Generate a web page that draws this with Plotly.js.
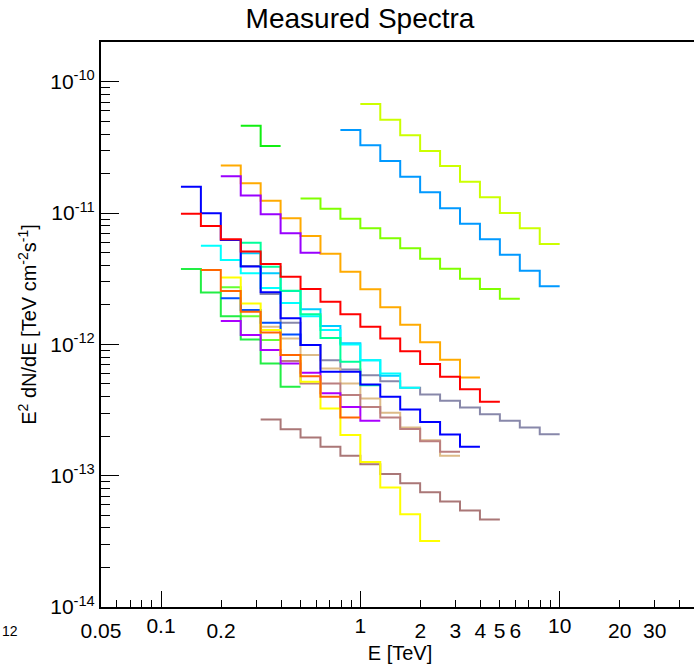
<!DOCTYPE html>
<html><head><meta charset="utf-8">
<script src="https://cdn.plot.ly/plotly-3.0.1.min.js"></script>
<style>html,body{margin:0;padding:0;overflow:hidden;background:#fff}</style>
</head><body><div id="chart"></div>
<script>
// Common log-spaced energy bin edges [TeV] (0.1 decade wide)
const binEdges = [0.1259,0.1585,0.1995,0.2512,0.3162,0.3981,0.5012,0.6310,0.7943,1.0,
                  1.259,1.585,1.995,2.512,3.162,3.981,5.012,6.310,7.943,10.0];

// Each spectrum: first bin-edge index and E^2 dN/dE values per bin
const specYellowGreen = {start:9, color:'#ccff00', values:[6.79e-11,5.13e-11,3.92e-11,2.97e-11,2.28e-11,1.73e-11,1.32e-11,1.00e-11,7.66e-12,5.81e-12]};
const specAzure = {start:8, color:'#0099ff', values:[4.30e-11,3.29e-11,2.49e-11,1.89e-11,1.44e-11,1.09e-11,8.30e-12,6.31e-12,4.82e-12,3.64e-12,2.77e-12]};
const specChartreuse = {start:6, color:'#80ff00', values:[1.29e-11,1.08e-11,9.06e-12,7.66e-12,6.43e-12,5.39e-12,4.49e-12,3.77e-12,3.16e-12,2.64e-12,2.23e-12]};
const specGreenTop = {start:3, color:'#11ee11', values:[4.62e-11,3.24e-11]};
const specOrange = {start:2, color:'#ffaa00', values:[2.30e-11,1.69e-11,1.24e-11,9.13e-12,6.69e-12,4.90e-12,3.58e-12,2.63e-12,1.92e-12,1.41e-12,1.04e-12,7.63e-13,5.60e-13]};
const specPurpleUp = {start:2, color:'#9900ff', values:[1.91e-11,1.36e-11,9.79e-12,7.02e-12,4.99e-12]};
const specGray = {start:2, color:'#8888aa', values:[6.23e-12,3.95e-12,2.42e-12,1.46e-12,9.88e-13,7.59e-13,6.45e-13,5.83e-13,5.25e-13,4.67e-13,4.16e-13,3.72e-13,3.31e-13,2.94e-13,2.62e-13,2.33e-13,2.07e-13]};
const specBlue = {start:0, color:'#0000ff', values:[1.59e-11,9.96e-12,6.23e-12,3.92e-12,2.50e-12,1.58e-12,9.88e-13,6.18e-13,6.18e-13,4.96e-13,3.99e-13,3.20e-13,2.57e-13,2.06e-13,1.66e-13]};
const specRed = {start:0, color:'#ff0000', values:[9.89e-12,7.97e-12,6.31e-12,5.10e-12,4.09e-12,3.27e-12,2.64e-12,2.11e-12,1.70e-12,1.36e-12,1.11e-12,8.86e-13,7.08e-13,5.66e-13,4.56e-13,3.65e-13]};
const specCyan = {start:1, color:'#00ffff', values:[5.64e-12,4.39e-12,3.48e-12,2.69e-12,2.07e-12,1.64e-12,1.29e-12,1.00e-12,7.59e-13,6.01e-13,4.67e-13]};
const specSkyBlue = {start:3, color:'#00ccff', values:[4.94e-12,3.48e-12,2.55e-12,1.85e-12,1.38e-12,1.02e-12,7.59e-13,5.76e-13]};
const specSpring = {start:3, color:'#00ff99', values:[5.95e-12,3.90e-12,2.56e-12,1.70e-12,1.12e-12,7.37e-13,4.89e-13]};
const specOrangeRed = {start:1, color:'#ff6600', values:[3.68e-12,2.55e-12,1.77e-12,1.23e-12,8.29e-13,5.73e-13,4.00e-13,2.78e-13]};
const specYellow = {start:2, color:'#ffff00', values:[3.23e-12,2.05e-12,1.29e-12,8.29e-13,5.19e-13,3.25e-13,2.04e-13,1.27e-13,8.13e-14,5.09e-14,3.18e-14]};
const specGreen = {start:0, color:'#22ee44', values:[3.75e-12,2.49e-12,1.64e-12,1.09e-12,7.16e-13,4.75e-13]};
const specLime = {start:2, color:'#66ff33', values:[2.72e-12,1.64e-12,1.08e-12]};
const specRoyal = {start:2, color:'#0050ff', values:[2.25e-12,1.83e-12,1.46e-12,1.19e-12,9.88e-13]};
const specPurpleLow = {start:2, color:'#aa00ff', values:[1.51e-12,1.18e-12,9.05e-13,7.16e-13,6.07e-13,4.25e-13,3.33e-13,2.62e-13]};
const specTan = {start:4, color:'#ddbb88', values:[1.36e-12,1.11e-12,8.29e-13,6.54e-13,5.04e-13,3.88e-13,3.01e-13,2.33e-13,1.86e-13,1.42e-13]};
const specBrown2 = {start:5, color:'#bb7f7f', values:[7.46e-13,5.04e-13,5.04e-13,4.11e-13,3.34e-13,2.78e-13,2.27e-13,1.83e-13,1.52e-13]};
const specBrown = {start:4, color:'#aa7777', values:[2.68e-13,2.26e-13,1.95e-13,1.66e-13,1.42e-13,1.22e-13,1.03e-13,8.77e-14,7.48e-14,6.36e-14,5.43e-14,4.64e-14]};

const spectra = [specYellowGreen, specAzure, specChartreuse, specGreenTop, specOrange, specPurpleUp,
  specGray, specTan, specBrown2, specBrown, specSkyBlue, specCyan, specSpring, specLime, specGreen,
  specRoyal, specPurpleLow, specYellow, specOrangeRed, specBlue, specRed];

// Axis ticks and labels
const xLabeled = [0.05,0.2,2,3,4,5,6,20,30];
const xLabelText = ['0.05','0.2','2','3','4','5','6','20','30'];
const xUnlabeled = [0.06,0.07,0.08,0.09,0.3,0.4,0.5,0.6,0.7,0.8,0.9,7,8,9,40,50];
const xDecades = [0.1,1,10];
const xDecadeText = ['0.1','1','10'];
const yDecades = [1e-14,1e-13,1e-12,1e-11,1e-10];
const yDecadeText = ['10<sup>-14</sup>','10<sup>-13</sup>','10<sup>-12</sup>','10<sup>-11</sup>','10<sup>-10</sup>'];
const yMinorMantissa = [2,3,4,5,6,7,8,9];

const FONT = 'Liberation Sans, Arial, Helvetica, sans-serif';

const traces = spectra.map(s => {
  const n = s.values.length;
  const x = binEdges.slice(s.start, s.start + n + 1);
  const y = s.values.concat([s.values[n-1]]);
  return {x:x, y:y, type:'scatter', mode:'lines', line:{shape:'hv', color:s.color, width:2},
          hoverinfo:'skip', showlegend:false};
});
traces.push({x:[], y:[], xaxis:'x2', yaxis:'y', type:'scatter', mode:'lines', showlegend:false});

const yMinor = [];
yDecades.forEach(d => yMinorMantissa.forEach(m => { if (m*d < 2.01e-10) yMinor.push(m*d); }));

const xRange = [Math.log10(0.05), Math.log10(50)];

const layout = {
  width:720, height:670,
  margin:{l:101, r:21, t:42, b:63},
  paper_bgcolor:'#fff', plot_bgcolor:'#fff',
  font:{family:FONT, color:'#000'},
  title:{text:'Measured Spectra', font:{size:28, family:FONT, color:'#000'}, x:0.5, xref:'container', y:0.973, yref:'container', yanchor:'middle'},
  xaxis:{type:'log', range:xRange, showline:true, linecolor:'#000', linewidth:2, mirror:true,
    ticks:'inside', ticklen:7, tickwidth:1, tickcolor:'#000', tickmode:'array', tickvals:xLabeled, ticktext:xLabelText,
    tickangle:0, ticklabelstandoff:4, tickfont:{size:21, family:FONT}, showgrid:false, zeroline:false,
    minor:{tickmode:'array', tickvals:xUnlabeled, ticks:'inside', ticklen:7, tickwidth:1, tickcolor:'#000', showgrid:false},
    title:{text:'E [TeV]', font:{size:20, family:FONT}, standoff:1}},
  xaxis2:{type:'log', overlaying:'x', anchor:'y', side:'bottom', range:xRange,
    ticks:'inside', ticklen:16, tickwidth:1, tickcolor:'#000', tickmode:'array', tickvals:xDecades, ticktext:xDecadeText,
    tickangle:0, ticklabelstandoff:4, tickfont:{size:21, family:FONT}, showgrid:false, zeroline:false, showline:false},
  yaxis:{type:'log', range:[-14, Math.log10(2.01e-10)], showline:true, linecolor:'#000', linewidth:2, mirror:true,
    ticks:'inside', ticklen:18, tickwidth:1, tickcolor:'#000', tickmode:'array', tickvals:yDecades, ticktext:yDecadeText,
    tickfont:{size:21, family:FONT}, showgrid:false, zeroline:false,
    minor:{tickmode:'array', tickvals:yMinor, ticks:'inside', ticklen:9, tickwidth:1, tickcolor:'#000', showgrid:false},
    title:{text:'E<sup>2</sup> dN/dE [TeV cm<sup>-2</sup>s<sup>-1</sup>]', font:{size:20, family:FONT}, standoff:8}},
  annotations:[{text:'12', xref:'paper', yref:'paper', x:-101/598, y:-24/565, xanchor:'left', yanchor:'middle', showarrow:false, font:{size:14, family:FONT, color:'#000'}}]
};

Plotly.newPlot('chart', traces, layout, {displayModeBar:false, staticPlot:true});
</script>
</body></html>
